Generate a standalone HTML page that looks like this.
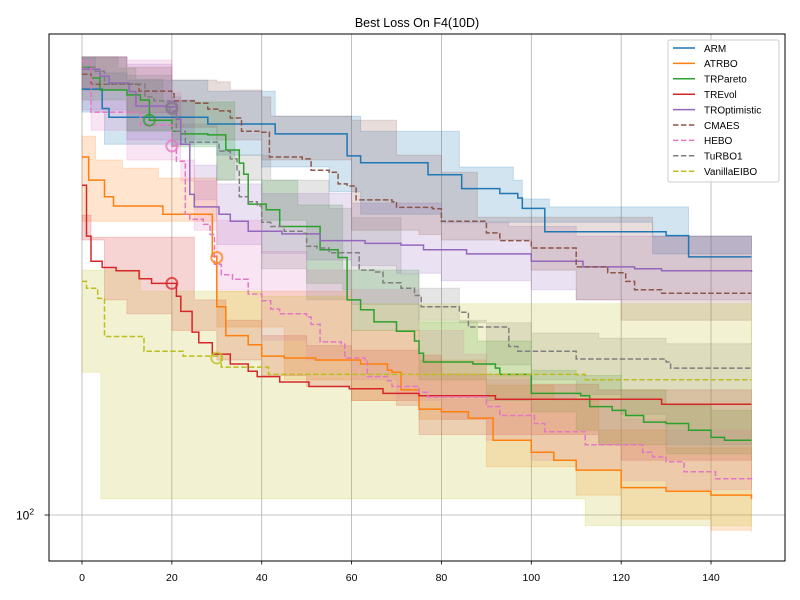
<!DOCTYPE html>
<html><head><meta charset="utf-8"><style>
html,body{margin:0;padding:0;background:#fff;}
svg{display:block;font-family:"Liberation Sans","DejaVu Sans",sans-serif;}
</style></head><body>
<svg id="chart" width="800" height="600" viewBox="0 0 800 600">
<rect x="0" y="0" width="800" height="600" fill="#fff"/>
<defs><clipPath id="clip"><rect x="49" y="34" width="736" height="527"/></clipPath></defs>
<text x="417" y="27" text-anchor="middle" font-size="12.5">Best Loss On F4(10D)</text>
<g id="grid"></g>
<g id="bands" clip-path="url(#clip)"></g>
<g id="lines" clip-path="url(#clip)"></g>
<g id="markers" clip-path="url(#clip)"></g>
<rect x="49" y="34" width="736" height="527" fill="none" stroke="#000" stroke-width="1"/>
<g id="axes"></g>
<g id="legend"></g>
</svg>
<script>
const seriesNames = ["ARM","ATRBO","TRPareto","TREvol","TROptimistic","CMAES","HEBO","TuRBO1","VanillaEIBO"];
const seriesColors = ["#1f77b4","#ff7f0e","#2ca02c","#d62728","#9467bd","#8c564b","#e377c2","#7f7f7f","#bcbd22"];
const seriesDashed = [false,false,false,false,false,true,true,true,true];
const xTicks = [0,20,40,60,80,100,120,140];

const armLine = [[0,768],[4.5,700],[6,671],[28,650],[43,620],[59,558],[62,540],[77,510],[84.5,477],[93,466],[97,456],[98,434],[103,388],[130,381],[135,344],[149,344]];
const armUpper = [[0,892],[3,830],[10,802],[28,760],[43,675],[62,628],[84,529],[96,497],[98,454],[104,437],[135,380],[149,380]];
const armLower = [[0,688],[5,590],[30,560],[40,529],[55,470],[62,422],[80,406],[127,349],[149,349]];

const atrboLine = [[0,555],[1.5,497],[5,459],[7,439],[18,422],[29,345],[30,271],[32,236],[37,226],[40,214],[45,212],[52,210],[62,206],[68,200],[69,198],[71,182],[75,166],[80,164],[86,159],[91.5,143],[100,135],[105,130],[110,124],[120,114],[130,112],[140,110],[149,108]];
const atrboUpper = [[0,613],[3,547],[9,526],[17,502],[30,292],[60,242],[75,210],[90,186],[105,173],[115,150],[130,138],[149,133]];
const atrboLower = [[0,408],[30,246],[45,191],[60,173],[75,158],[90,126],[110,110],[120,98],[140,93],[149,92]];

const paretoLine = [[0,853],[2,810],[4,765],[10,747],[13,729],[15,662],[20,628],[22,620],[28,617],[32,574],[35,539],[36,511],[37,443],[41,431],[44,398],[53,356],[57,343],[59,280],[62,267],[65,252],[70,241],[74,230],[75,217],[76,208],[87,206],[92,202],[93,196],[100,179],[111,177],[113,168],[118,165],[121,161],[125,156],[130,155],[135,150],[140,145],[143,143],[149,143]];
const paretoUpper = [[0,896],[8,849],[12,806],[18,722],[34,497],[48,441],[58,323],[75,252],[88,230],[100,200],[110,195],[120,182],[130,169],[140,165],[149,165]];
const paretoLower = [[0,729],[10,628],[20,583],[30,497],[40,410],[50,303],[58,294],[60,242],[75,191],[90,173],[100,164],[110,150],[115,140],[130,134],[149,130]];

const evolLine = [[0,485],[1,380],[2,337],[4.5,327],[7.6,322],[12.7,310],[15.5,303],[20,303],[21,285],[22,265],[24.5,240],[26,228],[29,216],[33,206],[37,199],[39,194],[44,189],[50.5,185],[59.5,183],[67,179],[75,177],[92,174],[129,170],[149,170]];
const evolUpper = [[0,420],[2,378],[21,378],[25,280],[32,254],[40,236],[50,225],[60,220],[75,215],[80,196],[100,187],[115,182],[149,182]];
const evolLower = [[0,373],[5,280],[10,262],[20,242],[30,210],[40,195],[50,185],[60,173],[70,169],[75,147],[115,140],[120,130],[149,113]];

const optLine = [[0,845],[4,817],[6,791],[10.5,759],[12,708],[19,705],[21,665],[22,590],[24,464],[25,437],[30.5,422],[33,408],[37,389],[44.5,384],[53,372],[63,367],[71,364],[76,356],[85.6,349],[100,337],[111.5,328],[123,325],[129,322],[149,320]];
const optUpper = [[0,896],[10,865],[20,729],[25,534],[30,488],[40,466],[60,445],[80,405],[95,398],[110,380],[149,380]];
const optLower = [[0,695],[10,602],[20,588],[25,452],[30,365],[40,350],[50,339],[60,330],[70,318],[80,307],[100,294],[110,280],[149,276]];

const cmaesLine = [[0,825],[2,786],[12.7,761],[20,751],[20.5,726],[25,718],[28,698],[30.5,692],[33,669],[35.5,628],[40,625],[41.7,555],[49,550],[51,521],[55,516],[57,488],[59,483],[61,452],[69,448],[70,436],[78,433],[80,408],[88,408],[90,386],[93,372],[99,372],[100,359],[109,359],[110,328],[117,319],[121,306],[123,294],[129,289],[149,289]];
const cmaesUpper = [[0,896],[10,853],[20,802],[30,795],[33,765],[40,740],[42,675],[60,662],[70,560],[80,516],[88,416],[127,380],[149,380]];
const cmaesLower = [[0,765],[10,685],[20,640],[30,602],[40,547],[60,391],[75,383],[80,373],[100,323],[110,280],[120,254],[149,226]];

const heboLine = [[0,878],[1,878],[2,688],[11.7,688],[13,646],[19,646],[20,585],[21,544],[23,422],[24,412],[27,402],[28.5,383],[29.5,332],[31,316],[33.5,309],[37,288],[40,279],[42,268],[44,262],[50,258],[51,249],[53,229],[57.7,227],[58.5,212],[63,210],[63.5,194],[68,190],[69,185],[75,180],[77,176],[90,168],[93,161],[100.7,155],[103,149],[112,140],[124.8,135],[127,132],[130,129],[134,123],[141,119],[149,118]];
const heboUpper = [[0,896],[10,883],[20,755],[22,495],[30,410],[40,353],[50,323],[60,294],[75,242],[85,216],[90,191],[100,186],[110,173],[120,158],[130,150],[149,143]];
const heboLower = [[0,729],[2,631],[10,547],[25,391],[30,294],[40,231],[50,210],[60,191],[70,173],[80,158],[90,143],[100,130],[110,124],[120,118],[130,113],[149,107]];

const turboLine = [[0,853],[3,837],[5,787],[14,740],[16,726],[19.5,692],[21,628],[23,596],[30.5,571],[33,550],[34.5,518],[35,459],[37,448],[39,439],[40,406],[42,398],[45,389],[49,385],[50,362],[52.3,359],[55,351],[61.7,323],[65,320],[67,304],[71,296],[74,286],[75.5,271],[84,264],[86,246],[95,224],[97,219],[110,211],[130,208],[131,202],[149,202]];
const turboUpper = [[0,896],[10,821],[20,740],[22,650],[30,574],[35,560],[42,497],[55,434],[60,415],[71,317],[75,296],[84,251],[100,239],[115,233],[130,227],[149,227]];
const turboLower = [[0,765],[10,631],[20,602],[30,497],[40,325],[50,280],[60,274],[75,254],[90,205],[100,191],[110,178],[120,162],[130,140],[149,140]];

const eiboLine = [[0,306],[1,296],[3.5,282],[5,235],[13.8,219],[22.5,214],[31,203],[41.5,196],[112,191],[149,191]];
const eiboUpper = [[0,323],[13,292],[40,285],[60,275],[149,275]];
const eiboLower = [[0,198],[4.2,108],[112,95],[149,95]];

const markerIters = [15,20,20,20,30,20,30];
const markerValues = [662,705,700,585,343,303,212];
const markerSeries = [2,4,7,6,1,3,8];

const allLines = [armLine,atrboLine,paretoLine,evolLine,optLine,cmaesLine,heboLine,turboLine,eiboLine];
const allUpper = [armUpper,atrboUpper,paretoUpper,evolUpper,optUpper,cmaesUpper,heboUpper,turboUpper,eiboUpper];
const allLower = [armLower,atrboLower,paretoLower,evolLower,optLower,cmaesLower,heboLower,turboLower,eiboLower];

const NS = "http://www.w3.org/2000/svg";
function xs(i){ return 82 + 4.493*i; }
function ys(v){ return 515 - 481*Math.log10(v/100); }
function mk(tag, attrs, parent){ const e=document.createElementNS(NS,tag); for(const k in attrs) e.setAttribute(k,attrs[k]); parent.appendChild(e); return e; }
function stepPts(arr){
  const pts=[];
  for(let k=0;k<arr.length;k++){
    if(k>0) pts.push([xs(arr[k][0]), ys(arr[k-1][1])]);
    pts.push([xs(arr[k][0]), ys(arr[k][1])]);
  }
  return pts;
}
const grid=document.getElementById('grid'), axes=document.getElementById('axes');
xTicks.forEach(t=>{
  const gl=mk('line',{x1:xs(t),x2:xs(t),y1:34,y2:561,stroke:'#b0b0b0','stroke-width':0.8},grid);
  
  
  mk('line',{x1:xs(t),x2:xs(t),y1:561,y2:564.5,stroke:'#000','stroke-width':0.8},axes);
  const tl=mk('text',{x:xs(t),y:581,'text-anchor':'middle','font-size':10.5},axes);
  tl.textContent=String(t);
  
  
});
const hg=mk('line',{x1:49,x2:785,y1:ys(100),y2:ys(100),stroke:'#b0b0b0','stroke-width':0.8},grid);


mk('line',{x1:44.5,x2:49,y1:ys(100),y2:ys(100),stroke:'#000','stroke-width':0.8},axes);
const yl=mk('text',{x:16,y:ys(100)+4.5,'font-size':12},axes);


yl.innerHTML='10<tspan dy="-5" font-size="8.5">2</tspan>';

const bands=document.getElementById('bands'), lines=document.getElementById('lines'), markers=document.getElementById('markers');
for(let s=0;s<seriesNames.length;s++){
  const up=stepPts(allUpper[s]), lo=stepPts(allLower[s]).reverse();
  const poly=up.concat(lo).map(p=>p[0].toFixed(1)+','+p[1].toFixed(1)).join(' ');
  const b=mk('polygon',{points:poly,fill:seriesColors[s],'fill-opacity':0.2,stroke:seriesColors[s],'stroke-opacity':0.2,'stroke-width':1},bands);
  
  
}
for(let s=0;s<seriesNames.length;s++){
  const pts=stepPts(allLines[s]).map(p=>p[0].toFixed(1)+','+p[1].toFixed(1)).join(' ');
  const a={points:pts,fill:'none',stroke:seriesColors[s],'stroke-width':1.5};
  if(seriesDashed[s]) a['stroke-dasharray']='5.5,2.4';
  const l=mk('polyline',a,lines);
  
  
}
for(let m=0;m<markerIters.length;m++){
  const c=mk('circle',{cx:xs(markerIters[m]),cy:ys(markerValues[m]),r:5.5,fill:'none',stroke:seriesColors[markerSeries[m]],'stroke-width':2,'stroke-opacity':0.75},markers);
  
  
}
const leg=document.getElementById('legend');
const lb=mk('rect',{x:668,y:40,width:111,height:142,rx:2,fill:'#fff','fill-opacity':0.8,stroke:'#cccccc','stroke-width':1},leg);


for(let s=0;s<seriesNames.length;s++){
  const y=48+15.4*s;
  const a={x1:673,x2:695,y1:y,y2:y,stroke:seriesColors[s],'stroke-width':1.5};
  if(seriesDashed[s]) a['stroke-dasharray']='5.5,2.4';
  const ll=mk('line',a,leg);
  
  
  const t=mk('text',{x:704,y:y+3.8,'font-size':10},leg);
  t.textContent=seriesNames[s];
  
  
}
</script>
</body></html>
